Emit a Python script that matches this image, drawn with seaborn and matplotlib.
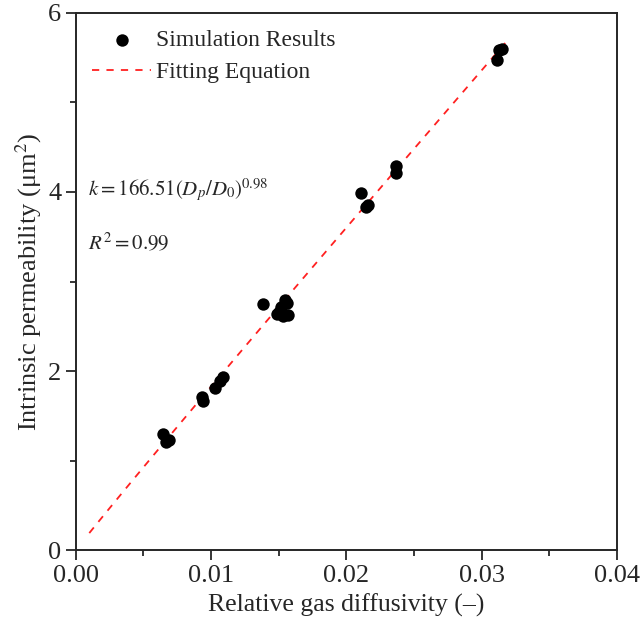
import numpy as np
import pandas as pd
import seaborn as sns
from matplotlib import pyplot as plt
from matplotlib.ticker import MultipleLocator

# simulation results
diffusivity = [0.00645, 0.00670, 0.00688, 0.00930, 0.00942, 0.01028, 0.01065, 0.01085,
               0.01385, 0.01484, 0.01520, 0.01533, 0.01558, 0.01570, 0.01500, 0.01548,
               0.02105, 0.02144, 0.02160, 0.02366, 0.02366, 0.03110, 0.03130, 0.03147]
permeability = [1.30, 1.21, 1.23, 1.71, 1.67, 1.81, 1.89, 1.93,
                2.75, 2.64, 2.72, 2.62, 2.76, 2.63, 2.66, 2.79,
                3.99, 3.83, 3.85, 4.29, 4.21, 5.47, 5.59, 5.60]

# fitting equation k = a * (Dp/D0)^b
fit_a = 166.51
fit_b = 0.98
fit_range = [0.001, 0.032]

sns.set_style('ticks')
plt.rcParams['font.family'] = ['Liberation Serif', 'DejaVu Serif']
plt.rcParams['mathtext.fontset'] = 'stix'

df = pd.DataFrame({'x': diffusivity, 'y': permeability})
xf = np.linspace(fit_range[0], fit_range[1], 100)
fit = pd.DataFrame({'x': xf, 'y': fit_a * xf ** fit_b})

fig = plt.figure(figsize=(6.42, 6.42), dpi=100)
ax = fig.add_axes([0.118, 0.143, 0.843, 0.837])

sns.scatterplot(data=df, x='x', y='y', color='black', s=80, edgecolor='black',
                linewidth=0, zorder=3, label='Simulation Results', ax=ax)
sns.lineplot(data=fit, x='x', y='y', color='#ff2020', linestyle=(0, (4, 4)),
             linewidth=1.3, label='Fitting Equation', ax=ax)

ax.set_xlim(0, 0.04)
ax.set_ylim(0, 6)
ax.xaxis.set_major_locator(MultipleLocator(0.01))
ax.xaxis.set_minor_locator(MultipleLocator(0.005))
ax.yaxis.set_major_locator(MultipleLocator(2))
ax.yaxis.set_minor_locator(MultipleLocator(1))
ax.xaxis.set_major_formatter(plt.FuncFormatter(lambda v, p: f'{v:.2f}'))
ax.tick_params(which='major', length=7, width=1.3, labelsize=19, direction='out')
ax.tick_params(which='minor', length=4, width=1.3, direction='out')
for s in ax.spines.values():
    s.set_linewidth(1.4)

ax.set_xlabel('Relative gas diffusivity (–)', fontsize=18.5, labelpad=5)
ax.set_ylabel('Intrinsic permeability (μm$^2$)', fontsize=19, labelpad=3)

ax.text(0.0009, 4.02, r'$k = 166.51\left(D_p/D_0\right)^{0.98}$', fontsize=15, va='center')
ax.text(0.0009, 3.43, r'$R^2 = 0.99$', fontsize=15, va='center')

ax.legend(loc='upper left', frameon=False, fontsize=17, handlelength=2.5,
          handletextpad=0.2, borderaxespad=0.15, borderpad=0.55, labelspacing=0.45)

fig.savefig('out.png', dpi=100)
